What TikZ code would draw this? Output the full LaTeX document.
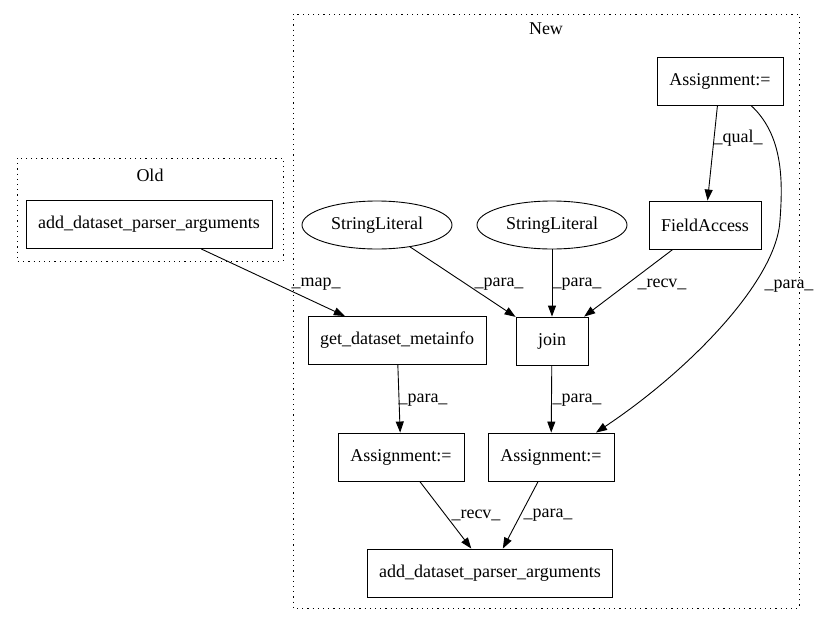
\documentclass[tikz,border=0pt]{standalone}
\usepackage{fontspec}
\setmainfont{Liberation Serif}
\usetikzlibrary{arrows.meta,shapes.geometric,calc}
\newcommand{\dgfont}{\fontsize{18}{21}\selectfont}
\begin{document}
\begin{tikzpicture}[x=1pt,y=-1pt,
  box/.style={draw,line width=0.9pt,inner sep=0pt,font=\dgfont,minimum height=48pt},
  ell/.style={draw,ellipse,line width=0.9pt,inner sep=0pt,minimum width=150pt,minimum height=48pt,font=\dgfont},
  lbl/.style={font=\dgfont,inner sep=0pt},
  edge/.style={line width=0.9pt,-{Triangle[length=11pt,width=8pt]}},
  cluster/.style={line width=0.9pt,dash pattern=on 1.2pt off 4pt}]
\useasboundingbox (0,0) rectangle (820,624);
% clusters
\draw[cluster] (293,14) rectangle (799,608);
\node[lbl] (newlbl) at (546,29) {New};
\draw[cluster] (17,158) rectangle (283,261);
\node[lbl] (oldlbl) at (150,175) {Old};
% nodes
\node[box,minimum width=246pt] (old) at (149,224.5) {add\_dataset\_parser\_arguments};
\node[ell] (sl1) at (377,225) {StringLiteral};
\node[ell] (sl2) at (552,225) {StringLiteral};
\node[box,minimum width=112pt] (fa) at (705,225) {FieldAccess};
\node[box,minimum width=126pt] (a0) at (720,81) {Assignment:=};
\node[box,minimum width=178pt] (gdm) at (397,340.5) {get\_dataset\_metainfo};
\node[box,minimum width=72pt] (join) at (552,341) {join};
\node[box,minimum width=126pt] (a1) at (401,457) {Assignment:=};
\node[box,minimum width=126pt] (a2) at (551,457) {Assignment:=};
\node[box,minimum width=245pt] (adp) at (490,573) {add\_dataset\_parser\_arguments};
% edges
\draw[edge] (old) -- (gdm);
\draw[edge] (sl1) -- (join);
\draw[edge] (sl2) -- (join);
\draw[edge] (fa) -- (join);
\draw[edge] (a0) -- (fa);
\draw[edge] ($(a0.south)+(31,0)$) .. controls (783,135) and (783,180) .. (780,220)
   .. controls (777,280) and (690,370) .. ($(a2.north)+(45,0)$);
\draw[edge] (gdm) -- (a1);
\draw[edge] (join) -- (a2);
\draw[edge] (a1) -- (adp);
\draw[edge] (a2) -- (adp);
% edge labels
\node[lbl] (l1) at (316,284) {\_map\_};
\node[lbl] (l2) at (499,284) {\_para\_};
\node[lbl] (l3) at (577,284) {\_para\_};
\node[lbl] (l4) at (662,284) {\_recv\_};
\node[lbl] (l5) at (738,138) {\_qual\_};
\node[lbl] (l6) at (789,286) {\_para\_};
\node[lbl] (l7) at (423,400) {\_para\_};
\node[lbl] (l8) at (577,400) {\_para\_};
\node[lbl] (l9) at (476,515) {\_recv\_};
\node[lbl] (l10) at (548,515) {\_para\_};
\end{tikzpicture}
\end{document}
